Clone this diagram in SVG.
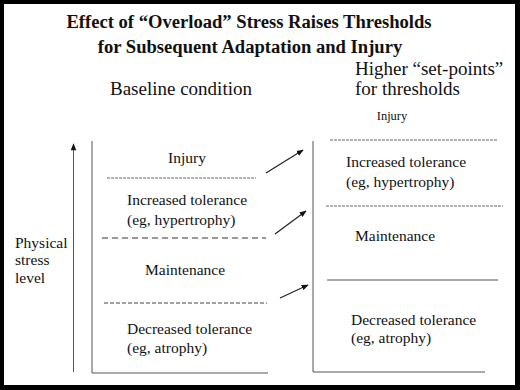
<svg xmlns="http://www.w3.org/2000/svg" width="520" height="390" viewBox="0 0 520 390">
<style>
text{font-family:"Liberation Serif","Times New Roman",serif;fill:#111}
.t{font-size:18.6px;font-weight:bold;text-anchor:middle}
.h{font-size:19px}
.b{font-size:15.5px}
.s{font-size:12.5px}
.ln{stroke:#555;stroke-width:1;fill:none}
.d1{stroke:#666;stroke-width:1;stroke-dasharray:3 1;fill:none}
.d2{stroke:#333;stroke-width:1.2;stroke-dasharray:6 4;fill:none}
.d3{stroke:#444;stroke-width:1;stroke-dasharray:4 2;fill:none}
.ar{stroke:#222;stroke-width:1.2;fill:none;marker-end:url(#ah)}
</style>
<defs>
<marker id="ah" viewBox="0 0 10 10" refX="9" refY="5" markerWidth="7" markerHeight="7" orient="auto" markerUnits="userSpaceOnUse">
<path d="M0,1 L10,5 L0,9 z" fill="#111"/>
</marker>
<marker id="ahu" viewBox="0 0 10 10" refX="9" refY="5" markerWidth="8" markerHeight="7" orient="auto" markerUnits="userSpaceOnUse">
<path d="M0,1 L10,5 L0,9 z" fill="#111"/>
</marker>
</defs>
<rect x="0" y="0" width="520" height="390" fill="#000"/>
<rect x="4" y="4" width="511" height="381" fill="#fff"/>
<g id="title">
<text class="t" x="249" y="28">Effect of “Overload” Stress Raises Thresholds</text>
<text class="t" x="250" y="53">for Subsequent Adaptation and Injury</text>
</g>
<g id="axis">
<line x1="73.5" y1="372" x2="73.5" y2="144" stroke="#555" stroke-width="1" marker-end="url(#ahu)"/>
<text class="b" x="15" y="248">Physical</text>
<text class="b" x="15" y="265">stress</text>
<text class="b" x="15" y="283">level</text>
</g>
<g id="baseline">
<text class="h" x="110" y="95">Baseline condition</text>
<path class="ln" d="M92,141 V373 H268"/>
<text class="b" x="187" y="163" text-anchor="middle">Injury</text>
<line class="d1" x1="107" y1="178" x2="256" y2="178"/>
<text class="b" x="127" y="205">Increased tolerance</text>
<text class="b" x="127" y="225">(eg, hypertrophy)</text>
<line class="d2" x1="102" y1="238" x2="266" y2="238"/>
<text class="b" x="145" y="275">Maintenance</text>
<line class="d3" x1="104" y1="303" x2="267" y2="303"/>
<text class="b" x="127" y="334">Decreased tolerance</text>
<text class="b" x="127" y="353">(eg, atrophy)</text>
</g>
<g id="higher">
<text class="h" x="355" y="75">Higher “set-points”</text>
<text class="h" x="355" y="95">for thresholds</text>
<text class="s" x="392" y="120" text-anchor="middle">Injury</text>
<line class="d1" x1="330" y1="140" x2="498" y2="140"/>
<path class="ln" d="M313,141 V372 H485"/>
<text class="b" x="346" y="167">Increased tolerance</text>
<text class="b" x="346" y="187">(eg, hypertrophy)</text>
<line class="d1" x1="326" y1="206" x2="503" y2="206"/>
<text class="b" x="355" y="241">Maintenance</text>
<line class="ln" x1="327" y1="280" x2="498" y2="280"/>
<text class="b" x="351" y="325">Decreased tolerance</text>
<text class="b" x="351" y="343">(eg, atrophy)</text>
</g>
<g id="connectors">
<line class="ar" x1="266" y1="173" x2="303" y2="150"/>
<line class="ar" x1="275" y1="234" x2="306" y2="211"/>
<line class="ar" x1="280" y1="298" x2="308" y2="285"/>
</g>
</svg>
